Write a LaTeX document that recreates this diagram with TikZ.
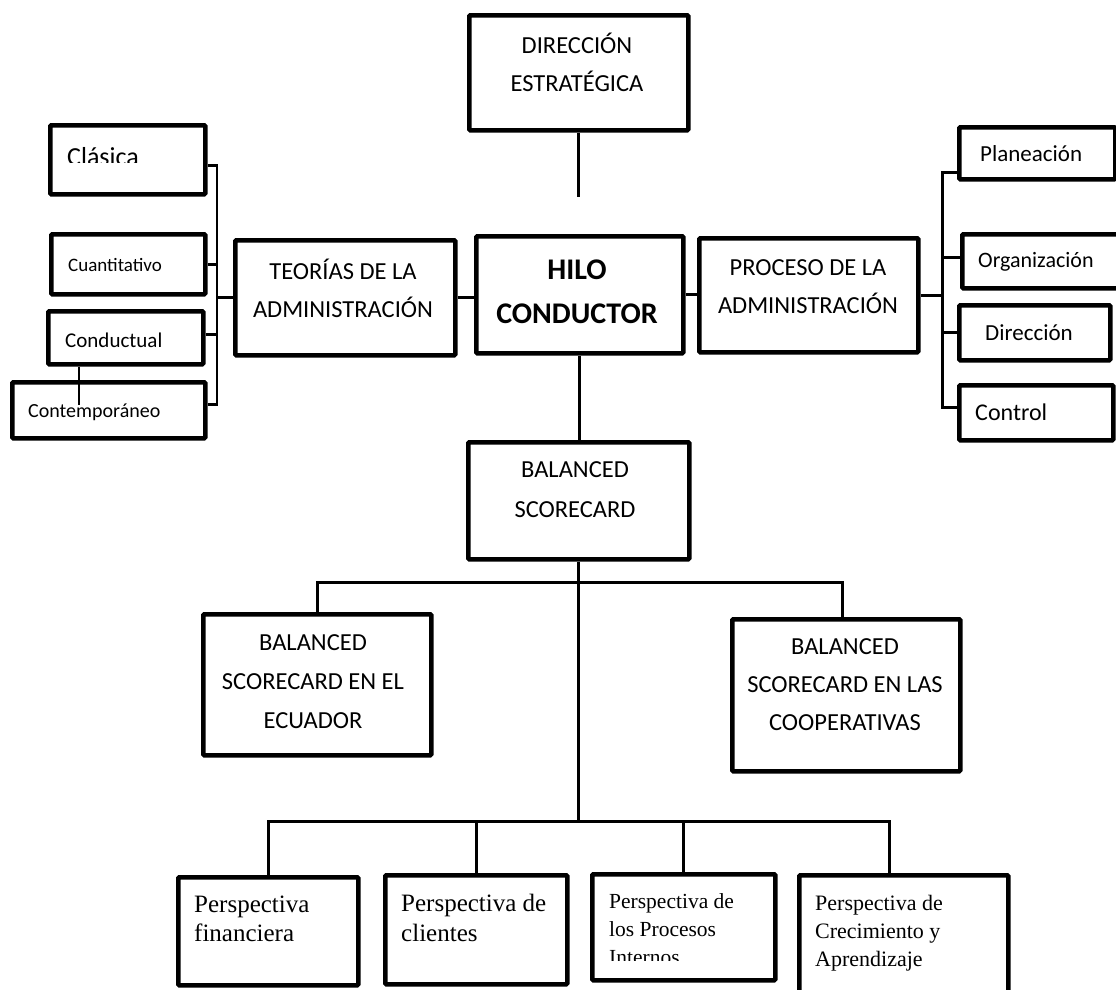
\documentclass[tikz,border=0pt]{standalone}
\usepackage{fontspec}
\setmainfont{Carlito}
\newfontfamily\serifface{Liberation Serif}
\begin{document}
\begin{tikzpicture}[x=1pt,y=-1pt,
  box/.style={draw=black, line width=4.5pt, rounded corners=1pt, inner sep=0pt,
              anchor=north west, fill=white},
  conn/.style={draw=black, line width=2.6pt},
  caps/.style={align=center, inner sep=0pt, font=\fontsize{24.5}{38}\selectfont},
  item/.style={anchor=base west, inner sep=0pt},
  persp/.style={anchor=north west, align=left, inner sep=0pt}
]
\useasboundingbox (0,0) rectangle (1116,989);
\fill[white] (0,0) rectangle (1116,989);
\clip (0,0) rectangle (1116,989);

% central column
\node[box, minimum width=219pt, minimum height=115pt] (dir)  at (467,13)  {};
\node[box, minimum width=220pt, minimum height=115pt] (teo)  at (233,238) {};
\node[box, minimum width=207pt, minimum height=117pt] (hilo) at (474,234) {};
\node[box, minimum width=219pt, minimum height=114pt] (pro)  at (697,236) {};
\node[box, minimum width=221pt, minimum height=117pt] (bsc)  at (466,440) {};
\node[box, minimum width=228pt, minimum height=141pt] (ecu)  at (201,612) {};
\node[box, minimum width=228pt, minimum height=152pt] (coop) at (730,617) {};

% theories of administration
\node[box, minimum width=155pt, minimum height=69pt] (cla) at (48,123) {};
\node[box, minimum width=154pt, minimum height=60pt] (cua) at (49,232) {};
\node[box, minimum width=155pt, minimum height=53pt] (cdt) at (46,309) {};
\node[box, minimum width=193pt, minimum height=56pt] (ctm) at (10,380) {};

% administrative process
\node[box, minimum width=156pt, minimum height=52pt] (pla)  at (957,125) {};
\node[box, minimum width=165pt, minimum height=54pt] (org)  at (960,232) {};
\node[box, minimum width=151pt, minimum height=55pt] (dire) at (957,303) {};
\node[box, minimum width=154pt, minimum height=55pt] (ctl)  at (957,383) {};

% perspectives
\node[box, minimum width=180pt, minimum height=108pt] (fin) at (176,875) {};
\node[box, minimum width=182pt, minimum height=109pt] (cli) at (383,873) {};
\node[box, minimum width=183pt, minimum height=106pt] (prc) at (590,872) {};
\node[box, minimum width=209pt, minimum height=135pt] (cre) at (797,873) {};

% labels of the main boxes
\node[caps] (dirT)  at (577,62)  {DIRECCIÓN\\ESTRATÉGICA};
\node[caps] (teoT)  at (343,288) {TEORÍAS DE LA\\ADMINISTRACIÓN};
\node[caps, font=\fontsize{30}{44}\selectfont\bfseries] (hiloT) at (577,292) {HILO\\CONDUCTOR};
\node[caps] (proT)  at (808,287) {PROCESO DE LA\\ADMINISTRACIÓN};
\node[caps, font=\fontsize{24.5}{40}\selectfont] (bscT) at (575,490) {BALANCED\\SCORECARD};
\node[caps, font=\fontsize{24.5}{39}\selectfont] (ecuT) at (313,682) {BALANCED\\SCORECARD EN EL\\ECUADOR};
\node[caps, font=\fontsize{24.5}{38}\selectfont] (coopT) at (845,685) {BALANCED\\SCORECARD EN LAS\\COOPERATIVAS};

% labels of the small boxes
\begin{scope}
  \clip (48,123) rectangle (203,162);
  \node[item, font=\fontsize{26}{30}\selectfont] (claT) at (67,165) {Clásica};
\end{scope}
\node[item, font=\fontsize{19}{22}\selectfont] (cuaT) at (68,271) {Cuantitativo};
\node[item, font=\fontsize{21}{24}\selectfont] (cdtT) at (65,347) {Conductual};
\node[item, font=\fontsize{20}{24}\selectfont] (ctmT) at (28,417) {Contemporáneo};
\node[item, font=\fontsize{23}{26}\selectfont] (plaT)  at (980,161) {Planeación};
\node[item, font=\fontsize{22}{26}\selectfont] (orgT)  at (978,267) {Organización};
\node[item, font=\fontsize{23}{26}\selectfont] (direT) at (985,340) {Dirección};
\node[item, font=\fontsize{24}{26}\selectfont] (ctlT)  at (975,420) {Control};

% perspective texts
\node[persp, font=\serifface\fontsize{25}{29}\selectfont] (finT) at (194,896) {Perspectiva\\financiera};
\node[persp, font=\serifface\fontsize{25}{30}\selectfont] (cliT) at (401,894) {Perspectiva de\\clientes};
\begin{scope}
  \clip (590,872) rectangle (773,960);
  \node[persp, font=\serifface\fontsize{21.5}{28}\selectfont] (prcT) at (609,893) {Perspectiva de\\los Procesos\\Internos};
\end{scope}
\node[persp, font=\serifface\fontsize{22}{28}\selectfont] (creT) at (815,895) {Perspectiva de\\Crecimiento y\\Aprendizaje};

% connectors
\coordinate (dirEnd) at (577,197);
\draw[conn] (dir.south) -- (dir.south |- dirEnd);
\draw[conn] (teo.east) -- (teo.east -| hilo.west);
\draw[conn] (hilo.east) -- (hilo.east -| pro.west);
\draw[conn] (hilo.south) -- (hilo.south |- bsc.north);

\draw[conn] (teo.west) -- ++(-16,0) coordinate (lb);
\draw[conn] ([yshift=-5.5pt]cla.east) -| (lb);
\draw[conn] (cua.east) -| (lb);
\draw[conn] ([yshift=3.5pt]cdt.east) -| (lb);
\draw[conn] ([yshift=6pt]ctm.east) -| (lb);
\draw[conn] ([xshift=33pt]cdt.south west) -- ++(0,38);

\draw[conn] (pro.east) -- ++(22,0) coordinate (rb);
\draw[conn] ([yshift=-19pt]pla.west) -| (rb);
\draw[conn] ([yshift=4pt]org.west) -| (rb);
\draw[conn] (dire.west) -| (rb);
\draw[conn] ([yshift=5.5pt]ctl.west) -| (rb);

\path (bsc.south) ++(0,21) coordinate (j1);
\path (bsc.south) ++(0,260) coordinate (j2);
\draw[conn] (bsc.south) -- (j2);
\draw[conn] (ecu.north) |- (j1) -| ([xshift=-4pt]coop.north);
\draw[conn] (fin.north) |- (j2) -| ([xshift=-14pt]cre.north);
\draw[conn] (cli.north) -- (cli.north |- j2);
\draw[conn] (prc.north) -- (prc.north |- j2);
\end{tikzpicture}
\end{document}
